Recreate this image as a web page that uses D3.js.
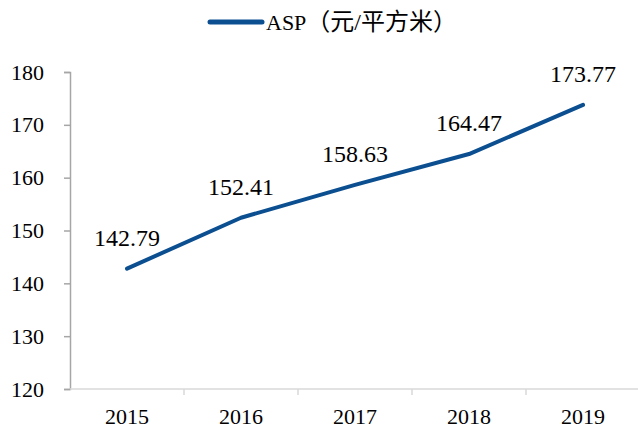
<!DOCTYPE html>
<html>
<head>
<meta charset="utf-8">
<script src="https://cdn.jsdelivr.net/npm/d3@7"></script>
<style>
  body { margin: 0; background: #fff; }
  text { font-family: "Liberation Serif", "Times New Roman", "Noto Sans CJK SC", serif; }
</style>
</head>
<body>
<svg id="chart"></svg>
<script>
const years = ['2015', '2016', '2017', '2018', '2019'];
const asp = [142.79, 152.41, 158.63, 164.47, 173.77];
const yTicks = [120, 130, 140, 150, 160, 170, 180];
const seriesName = 'ASP';
const seriesUnit = '（元/平方米）';

const width = 638, height = 430;
const margin = { top: 72, right: -2, bottom: 41, left: 70 };
const lineColor = '#0b4f91';

const svg = d3.select('#chart')
    .attr('width', width)
    .attr('height', height);

const x = d3.scaleBand()
    .domain(years)
    .range([margin.left, width - margin.right])
    .padding(0);

const y = d3.scaleLinear()
    .domain([120, 180])
    .range([height - margin.bottom, margin.top]);

// Y axis
const yAxis = svg.append('g')
    .attr('transform', `translate(${margin.left},0)`)
    .call(d3.axisLeft(y).tickValues(yTicks).tickSize(6).tickPadding(20));
yAxis.select('.domain').attr('stroke', '#a6a6a6').attr('stroke-width', 1.5);
yAxis.selectAll('.tick line').attr('stroke', '#a6a6a6').attr('stroke-width', 1.5);
yAxis.selectAll('text')
    .attr('font-size', '22px')
    .attr('fill', '#000');

// X axis with ticks at category boundaries
const xAxisG = svg.append('g')
    .attr('transform', `translate(0,${y(120)})`);
xAxisG.append('line')
    .attr('x1', margin.left)
    .attr('x2', width)
    .attr('stroke', '#d9d9d9')
    .attr('stroke-width', 1.5);
xAxisG.selectAll('.xtick')
    .data(years.slice(1))
    .enter()
    .append('line')
    .attr('class', 'xtick')
    .attr('x1', d => x(d))
    .attr('x2', d => x(d))
    .attr('y1', 0)
    .attr('y2', 6)
    .attr('stroke', '#d9d9d9')
    .attr('stroke-width', 1.5);
xAxisG.selectAll('.xlabel')
    .data(years)
    .enter()
    .append('text')
    .attr('class', 'xlabel')
    .attr('x', d => x(d) + x.bandwidth() / 2)
    .attr('y', 35)
    .attr('text-anchor', 'middle')
    .attr('font-size', '22px')
    .attr('fill', '#000')
    .text(d => d);

// Line
const line = d3.line()
    .x((d, i) => x(years[i]) + x.bandwidth() / 2)
    .y(d => y(d));

svg.append('path')
    .datum(asp)
    .attr('d', line)
    .attr('fill', 'none')
    .attr('stroke', lineColor)
    .attr('stroke-width', 4)
    .attr('stroke-linejoin', 'round')
    .attr('stroke-linecap', 'round');

// Data labels
svg.selectAll('.dlabel')
    .data(asp)
    .enter()
    .append('text')
    .attr('class', 'dlabel')
    .attr('x', (d, i) => x(years[i]) + x.bandwidth() / 2)
    .attr('y', d => y(d) - 23)
    .attr('text-anchor', 'middle')
    .attr('font-size', '24px')
    .attr('fill', '#000')
    .text(d => d.toFixed(2));

// Legend
const legend = svg.append('g');
legend.append('line')
    .attr('x1', 210)
    .attr('x2', 262)
    .attr('y1', 22)
    .attr('y2', 22)
    .attr('stroke', lineColor)
    .attr('stroke-width', 5)
    .attr('stroke-linecap', 'round');
const legendText = legend.append('text')
    .attr('x', 266)
    .attr('y', 30)
    .attr('font-size', '22px')
    .attr('fill', '#000');
legendText.append('tspan').text(seriesName);
legendText.append('tspan').attr('font-size', '24px').text(seriesUnit);
</script>
</body>
</html>
